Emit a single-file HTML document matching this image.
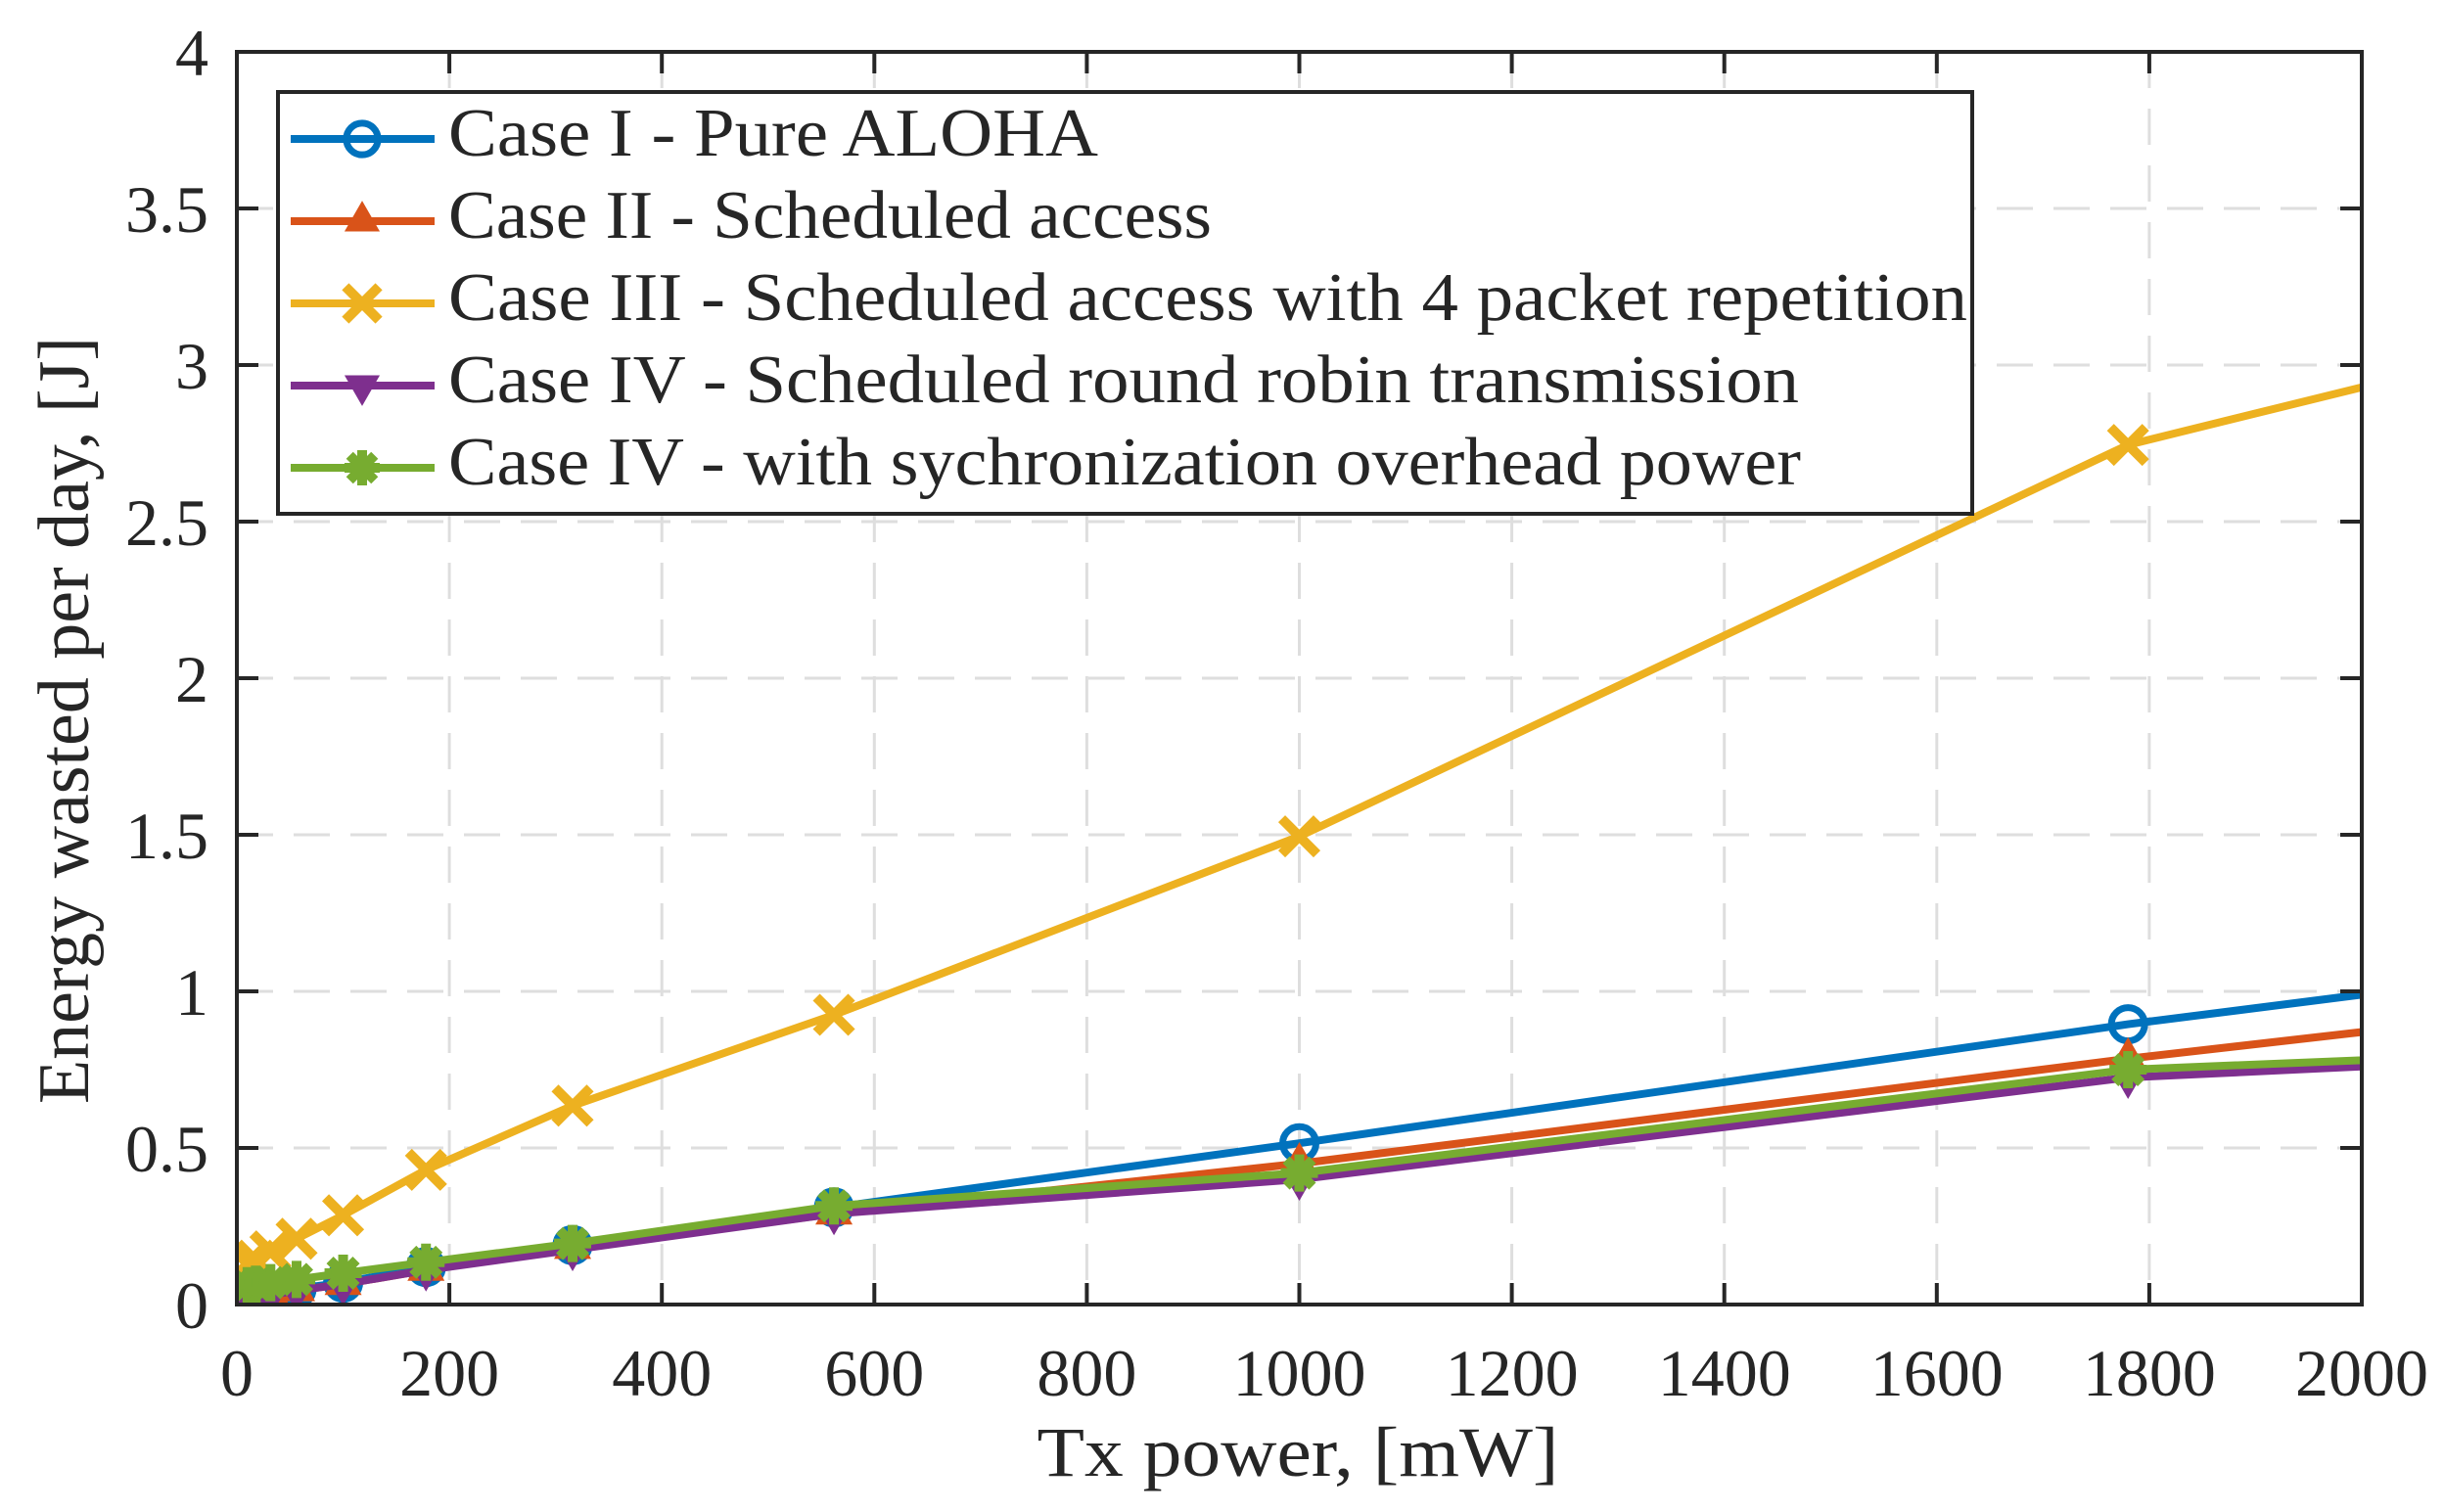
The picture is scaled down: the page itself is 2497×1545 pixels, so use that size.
<!DOCTYPE html>
<html><head><meta charset="utf-8"><style>
html,body{margin:0;padding:0;background:#fff}
svg{display:block}
text{font-family:"Liberation Serif",serif;fill:#262626}
</style></head><body>
<svg id="s" width="2497" height="1545" viewBox="0 0 2497 1545" xmlns="http://www.w3.org/2000/svg">
<defs><clipPath id="c"><rect x="242" y="53" width="2171" height="1280"/></clipPath></defs>
<g id="grid" stroke="#dedede" stroke-width="3" stroke-dasharray="37,21"></g>
<g id="series" clip-path="url(#c)"></g>
<rect x="242" y="53" width="2171" height="1280" fill="none" stroke="#262626" stroke-width="4"/>
<g id="ticks" stroke="#262626" stroke-width="4"></g>
<g id="labels" font-size="68"></g>
<text x="1326" y="1508" font-size="72" text-anchor="middle" textLength="533" lengthAdjust="spacingAndGlyphs">Tx power, [mW]</text>
<text transform="translate(90,1128) rotate(-90)" font-size="74" textLength="784" lengthAdjust="spacingAndGlyphs">Energy wasted per day, [J]</text>
<rect x="284" y="94" width="1731" height="431" fill="#fff" stroke="#262626" stroke-width="4"/>
<g id="legend"></g>
</svg>
<script>
var NS="http://www.w3.org/2000/svg";
function X(v){return 242+v*2171/2000}
function Y(v){return 1333-v*320}
function el(p,t,a,txt){var e=document.createElementNS(NS,t);for(var k in a)e.setAttribute(k,a[k]);if(txt!=null)e.textContent=txt;document.getElementById(p).appendChild(e);return e}
for(var i=1;i<10;i++){el("grid","line",{x1:X(i*200),x2:X(i*200),y1:53,y2:1333});}
for(var j=1;j<8;j++){el("grid","line",{x1:242,x2:2413,y1:Y(j*0.5),y2:Y(j*0.5)});}
for(var i=0;i<=10;i++){var x=X(i*200);el("ticks","line",{x1:x,x2:x,y1:1333,y2:1311});el("ticks","line",{x1:x,x2:x,y1:53,y2:75});
 el("labels","text",{x:x,y:1426,"text-anchor":"middle"},String(i*200));}
for(var j=0;j<=8;j++){var y=Y(j*0.5);el("ticks","line",{x1:242,x2:264,y1:y,y2:y});el("ticks","line",{x1:2413,x2:2391,y1:y,y2:y});
 el("labels","text",{x:213,y:y+24,"text-anchor":"end"},String(j*0.5));}
var xs=[10,17.8,31.6,56.2,100,178,316,562,1000,1780,3162];
var S=[
 {c:"#0072BD",m:"o",d:[0.03,0.03,0.04,0.05,0.07,0.12,0.19,0.31,0.515,0.895,1.49]},
 {c:"#D95319",m:"^",d:[0.02,0.025,0.035,0.045,0.065,0.11,0.18,0.29,0.45,0.785,1.32]},
 {c:"#EDB120",m:"x",d:[0.13,0.14,0.17,0.21,0.285,0.43,0.635,0.925,1.495,2.745,3.9]},
 {c:"#7E2F8E",m:"v",d:[0.01,0.02,0.03,0.045,0.065,0.11,0.175,0.29,0.40,0.725,0.945]},
 {c:"#77AC30",m:"*",d:[0.06,0.065,0.07,0.08,0.10,0.135,0.195,0.315,0.42,0.75,0.94]}];
function marker(g,m,x,y,c,sc){sc=sc||1;
 if(m=="o")el(g,"circle",{cx:x,cy:y,r:17*sc,fill:"none",stroke:c,"stroke-width":7});
 if(m=="^")el(g,"polygon",{points:(x)+","+(y-22*sc)+" "+(x-19*sc)+","+(y+11*sc)+" "+(x+19*sc)+","+(y+11*sc),fill:c});
 if(m=="v")el(g,"polygon",{points:(x)+","+(y+22*sc)+" "+(x-19*sc)+","+(y-11*sc)+" "+(x+19*sc)+","+(y-11*sc),fill:c});
 if(m=="x"){var r=18*sc;el(g,"path",{d:"M"+(x-r)+" "+(y-r)+"L"+(x+r)+" "+(y+r)+"M"+(x-r)+" "+(y+r)+"L"+(x+r)+" "+(y-r),stroke:c,"stroke-width":10,fill:"none"});}
 if(m=="*"){var r=19*sc;for(var a=0;a<4;a++){var t=a*Math.PI/4;el(g,"line",{x1:x-r*Math.cos(t),y1:y-r*Math.sin(t),x2:x+r*Math.cos(t),y2:y+r*Math.sin(t),stroke:c,"stroke-width":10});}
  el(g,"circle",{cx:x,cy:y,r:12*sc,fill:c});}
}
S.forEach(function(s){var p=s.d.map(function(v,i){return X(xs[i])+","+Y(v)}).join(" ");
 el("series","polyline",{points:p,fill:"none",stroke:s.c,"stroke-width":8,"stroke-linejoin":"round"});
 s.d.forEach(function(v,i){if(i<10)marker("series",s.m,X(xs[i]),Y(v),s.c);});});
var names=["Case I - Pure ALOHA","Case II - Scheduled access","Case III - Scheduled access with 4 packet repetition","Case IV - Scheduled round robin transmission","Case IV - with sychronization overhead power"];
var widths=[664,780,1552,1380,1382];
names.forEach(function(n,i){var y=142+i*84;
 el("legend","line",{x1:297,x2:444,y1:y,y2:y,stroke:S[i].c,"stroke-width":8});
 marker("legend",S[i].m,370,y,S[i].c,0.95);
 el("legend","text",{x:458,y:y+17,"font-size":70,textLength:widths[i],lengthAdjust:"spacingAndGlyphs"},n);});
</script>
</body></html>
